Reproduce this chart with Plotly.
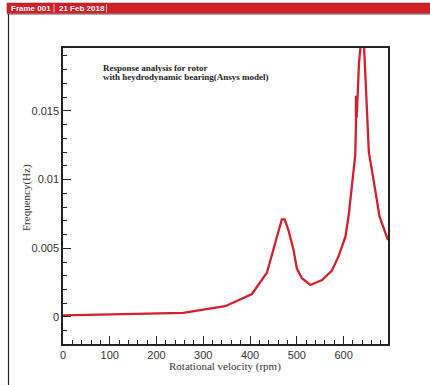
import plotly.graph_objects as go

rpm = [0, 257, 347, 404, 436, 468, 474, 482, 493, 500, 511, 529, 554, 575, 589, 604,
       611, 620, 625, 626.5, 626.5, 628, 633, 638, 643, 645, 650, 654, 663, 677, 695]
freq = [0.00012, 0.0003, 0.00078, 0.00167, 0.00322, 0.00711, 0.00711, 0.00633, 0.00488,
        0.00354, 0.00282, 0.00233, 0.00269, 0.00337, 0.00439, 0.00584, 0.00742, 0.00997,
        0.0118, 0.0141, 0.0161, 0.0145, 0.0185, 0.0203, 0.0203, 0.0187, 0.0148, 0.0120,
        0.0102, 0.0073, 0.0056]

W, H = 430, 385
L, R, T, B = 63, 388, 48, 344

def px(x):
    return (x - L) / (R - L)

def py(y):
    return (B - y) / (B - T)

fig = go.Figure()
fig.add_trace(go.Scatter(x=rpm, y=freq, mode="lines",
                         line=dict(color="#d3202a", width=2.3), showlegend=False))

axis_common = dict(showline=True, linecolor="#222", linewidth=1.5, mirror=True,
                   showgrid=False, zeroline=False, ticks="inside",
                   tickcolor="#222", tickwidth=1,
                   tickfont=dict(family="Liberation Sans", size=11, color="#333"))

fig.update_xaxes(range=[0, 695], dtick=100, tick0=0, ticklen=8,
                 minor=dict(ticks="inside", dtick=20, ticklen=4, tickcolor="#222"),
                 **axis_common)
fig.update_yaxes(range=[-0.00197, 0.01958], dtick=0.005, tick0=0, ticklen=8,
                 minor=dict(ticks="inside", dtick=0.001, ticklen=4, tickcolor="#222"),
                 **axis_common)

shapes = [
    dict(type="rect", xref="paper", yref="paper", x0=px(7), x1=px(431), y0=py(13.5), y1=py(3),
         fillcolor="#d1202a", line=dict(color="#8a1a1a", width=0.5), layer="above"),
    dict(type="line", xref="paper", yref="paper", x0=px(7), x1=px(431), y0=py(14.5), y1=py(14.5),
         line=dict(color="#aaaaaa", width=1), layer="above"),
    dict(type="line", xref="paper", yref="paper", x0=px(54), x1=px(54), y0=py(12.5), y1=py(4),
         line=dict(color="#f4b8b8", width=1), layer="above"),
    dict(type="line", xref="paper", yref="paper", x0=px(106.5), x1=px(106.5), y0=py(12.5), y1=py(4),
         line=dict(color="#f4b8b8", width=1), layer="above"),
    dict(type="line", xref="paper", yref="paper", x0=px(8.5), x1=px(8.5), y0=py(14), y1=py(386),
         line=dict(color="#222", width=1.2), layer="above"),
]

annotations = [
    dict(text="<b>Frame 001</b>", xref="paper", yref="paper", x=px(9), y=py(8.5),
         xanchor="left", yanchor="middle", showarrow=False,
         font=dict(family="Liberation Sans", size=8, color="white")),
    dict(text="<b>21 Feb 2018</b>", xref="paper", yref="paper", x=px(57), y=py(8.5),
         xanchor="left", yanchor="middle", showarrow=False,
         font=dict(family="Liberation Sans", size=8, color="white")),
    dict(text="<b>Response analysis for rotor</b>",
         xref="paper", yref="paper", x=px(101), y=py(68), xanchor="left", yanchor="middle",
         showarrow=False, font=dict(family="Liberation Serif", size=9, color="#222")),
    dict(text="<b>with heydrodynamic bearing(Ansys model)</b>",
         xref="paper", yref="paper", x=px(101), y=py(77), xanchor="left", yanchor="middle",
         showarrow=False, font=dict(family="Liberation Serif", size=9, color="#222")),
    dict(text="Rotational velocity (rpm)", xref="paper", yref="paper", x=px(225), y=py(366),
         xanchor="center", yanchor="middle", showarrow=False,
         font=dict(family="Liberation Serif", size=11, color="#333")),
    dict(text="Frequency(Hz)", xref="paper", yref="paper", x=px(26), y=py(198),
         xanchor="center", yanchor="middle", showarrow=False, textangle=-90,
         font=dict(family="Liberation Serif", size=11, color="#333")),
]

fig.update_layout(width=W, height=H, margin=dict(l=L, r=W - R, t=T, b=H - B),
                  paper_bgcolor="white", plot_bgcolor="white",
                  shapes=shapes, annotations=annotations)

fig.write_html("out.html")
